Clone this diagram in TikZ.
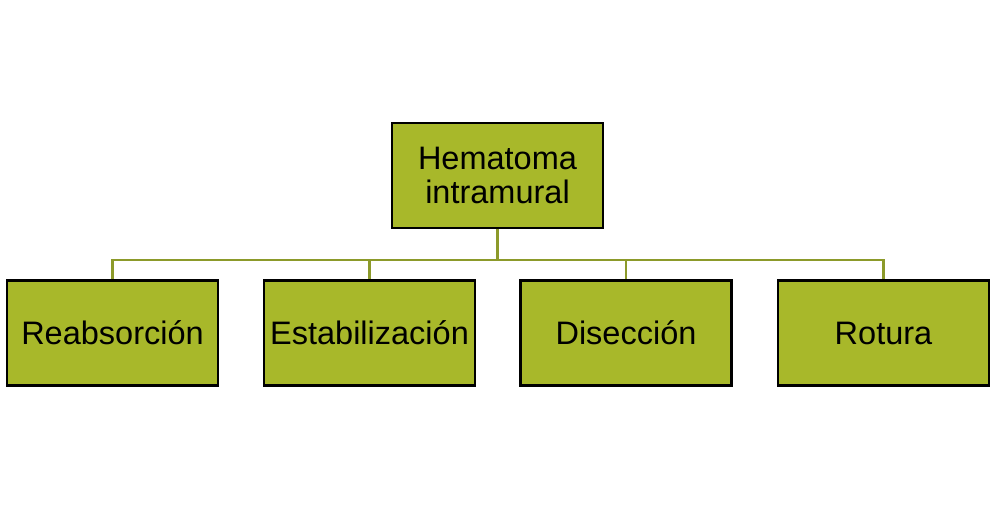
\documentclass[tikz,border=0pt]{standalone}
\usepackage{fontspec}
\setmainfont{Liberation Sans}
\usetikzlibrary{calc}
\definecolor{boxfill}{HTML}{A8B82A}
\definecolor{linkcol}{HTML}{8C9A2A}
\begin{document}
\begin{tikzpicture}[x=1pt,y=-1pt,
  box/.style={draw=black,line width=2.8pt,fill=boxfill,minimum width=211pt,minimum height=105pt,inner sep=0pt,align=center,font=\fontsize{32.5}{34.5}\selectfont,text=black},
  link/.style={draw=linkcol,line width=2.6pt}]
\useasboundingbox (0,0) rectangle (992,517);
\node[box] (top) at (497.5,175.5) {Hematoma\\intramural};
\node[box] (a) at (112.5,333) {Reabsorción};
\node[box] (b) at (369.5,333) {Estabilización};
\node[box] (c) at (626,333) {Disección};
\node[box] (d) at (883.5,333) {Rotura};
\coordinate (j) at ($(top.south)+(0,30.5)$);
\draw[link] (top.south) -- (j);
\draw[link] (a.north) |- (j) -| (d.north);
\draw[link] (b.north) -- (b.north |- j);
\draw[link] (c.north) -- (c.north |- j);
\end{tikzpicture}
\end{document}
